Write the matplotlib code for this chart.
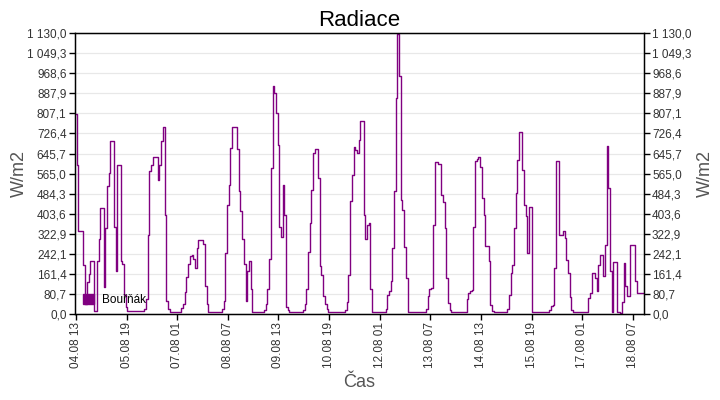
import matplotlib
matplotlib.use("Agg")

import numpy as np
import matplotlib.pyplot as plt

plt.rcParams['font.family'] = ['Liberation Sans', 'DejaVu Sans']

# hodinove hodnoty radiace (W/m2)
radiace = [
    805, 600, 333, 333, 333, 199, 40, 130, 160, 212,
    212, 12, 12, 212, 300, 427, 427, 110, 346, 514,
    568, 695, 695, 350, 172, 601, 601, 212, 200, 78,
    30, 12, 12, 12, 12, 12, 12, 12, 12, 12,
    12, 20, 60, 319, 574, 600, 631, 631, 631, 541,
    601, 695, 752, 400, 51, 20, 8, 8, 8, 8,
    8, 8, 8, 25, 40, 90, 150, 200, 235, 239,
    220, 185, 266, 299, 299, 299, 280, 111, 40, 8,
    8, 8, 8, 8, 8, 8, 8, 20, 51, 246,
    440, 521, 668, 752, 752, 752, 662, 494, 413, 300,
    200, 51, 172, 212, 100, 8, 8, 8, 8, 8,
    8, 8, 15, 40, 100, 220, 588, 917, 890, 809,
    682, 350, 310, 521, 400, 30, 15, 8, 8, 8,
    8, 8, 8, 8, 8, 15, 40, 100, 250, 366,
    500, 648, 666, 666, 547, 192, 158, 71, 40, 20,
    8, 8, 8, 8, 8, 8, 8, 8, 8, 8,
    15, 50, 158, 454, 561, 671, 660, 648, 700, 776,
    776, 400, 300, 360, 366, 100, 8, 8, 8, 8,
    8, 8, 8, 8, 20, 78, 91, 132, 266, 494,
    870, 1127, 957, 460, 420, 268, 145, 10, 8, 8,
    8, 8, 8, 8, 8, 8, 8, 8, 20, 71,
    100, 105, 360, 611, 611, 605, 604, 480, 450, 346,
    145, 44, 15, 8, 8, 8, 8, 8, 8, 8,
    8, 8, 60, 85, 91, 98, 350, 615, 625, 631,
    590, 467, 400, 272, 272, 212, 38, 12, 8, 8,
    8, 8, 8, 8, 8, 8, 20, 78, 165, 199,
    346, 487, 620, 731, 731, 581, 440, 393, 246, 430,
    430, 8, 8, 8, 8, 8, 8, 8, 8, 8,
    8, 15, 31, 38, 185, 615, 615, 319, 319, 333,
    306, 219, 165, 67, 18, 8, 8, 8, 8, 8,
    8, 8, 8, 8, 64, 85, 165, 165, 145, 91,
    199, 239, 239, 152, 279, 675, 507, 172, 8, 208,
    208, 8, 8, 5, 50, 205, 111, 71, 71, 279,
    279, 279, 132, 85, 85, 85, 85,
]

popisky_x = ["04.08 13", "05.08 19", "07.08 01", "08.08 07", "09.08 13", "10.08 19",
             "12.08 01", "13.08 07", "14.08 13", "15.08 19", "17.08 01", "18.08 07"]
krok_popisku = 30  # hodin mezi popisky

y_max = 1130.0
y_ticks = np.linspace(0, y_max, 15)


def cz_format(v):
    s = f"{v:,.1f}"
    return s.replace(",", " ").replace(".", ",")


x = np.arange(len(radiace))

fig = plt.figure(figsize=(7.2, 4.0), dpi=100)
ax = fig.add_axes([0.104, 0.215, 0.79, 0.702])

ax.plot(x, radiace, drawstyle="steps-mid", color="#800080", linewidth=1.0,
        label="Bouřňák")

ax.set_xlim(-0.6, 336.4)
ax.set_ylim(0, y_max)

ax.set_yticks(y_ticks)
ax.set_yticklabels([cz_format(v) for v in y_ticks], fontsize=8.5, color="#333333")
ax.grid(axis="y", color="#e8e8e8", linewidth=0.9)
ax.set_axisbelow(True)

xt = np.arange(len(popisky_x)) * krok_popisku
ax.set_xticks(xt)
ax.set_xticklabels(popisky_x, rotation=90, fontsize=8.5, color="#333333")
ax.tick_params(axis="both", length=4, width=1, pad=2, colors="black", labelcolor="#333333")

for s in ax.spines.values():
    s.set_color("black")
    s.set_linewidth(1)

ax2 = ax.twinx()
ax2.set_ylim(0, y_max)
ax2.set_yticks(y_ticks)
ax2.set_yticklabels([cz_format(v) for v in y_ticks], fontsize=8.5, color="#333333")
ax2.tick_params(axis="y", length=4, width=1, pad=2, colors="black", labelcolor="#333333")

ax.set_ylabel("W/m2", fontsize=13, color="#555555")
ax.yaxis.set_label_coords(-0.082, 0.5)
ax2.set_ylabel("W/m2", fontsize=13, color="#555555", rotation=90)
ax2.yaxis.set_label_coords(1.093, 0.5)
ax.set_xlabel("Čas", fontsize=13, color="#555555", labelpad=4)
ax.set_title("Radiace", fontsize=16, pad=5)

ax.legend(loc="lower left", frameon=False, fontsize=8.5, handlelength=0.9,
          handleheight=0.9, borderaxespad=0.3, handletextpad=0.7,
          handles=[plt.Rectangle((0, 0), 1, 1, color="#800080")], labels=["Bouřňák"])

fig.savefig("out.png", dpi=100)
